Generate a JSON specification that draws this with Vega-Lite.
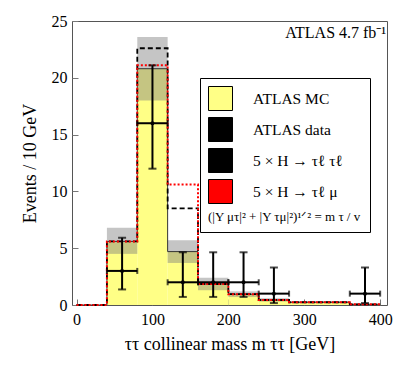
{
  "$schema": "https://vega.github.io/schema/vega-lite/v6.json",
  "width": 315,
  "height": 284,
  "autosize": {"type": "none"},
  "padding": {"left": 72, "top": 21, "right": 20, "bottom": 71},
  "background": "white",
  "config": {
    "font": "Liberation Serif",
    "view": {"stroke": "#555", "strokeWidth": 1},
    "axis": {"domain": false, "grid": false, "labelFont": "Liberation Serif", "labelFontSize": 16, "labelColor": "black", "titleFont": "Liberation Serif", "titleFontSize": 18, "titleFontWeight": "normal", "titleColor": "black", "tickColor": "#777", "tickWidth": 1}
  },
  "title": {"text": "ATLAS 4.7 fb⁻¹", "anchor": "end", "orient": "top", "offset": -28, "dx": -6, "fontSize": 16, "fontWeight": "normal", "font": "Liberation Serif", "color": "black"},
  "datasets": {
    "bins": [
      {"s": "ATLAS MC", "lo": 0, "hi": 40, "mc": 0, "blo": 0, "bhi": 0},
      {"s": "ATLAS MC", "lo": 40, "hi": 80, "mc": 5.6, "blo": 4.5, "bhi": 6.8},
      {"s": "ATLAS MC", "lo": 80, "hi": 120, "mc": 20.8, "blo": 18.0, "bhi": 23.6},
      {"s": "ATLAS MC", "lo": 120, "hi": 160, "mc": 4.7, "blo": 3.7, "bhi": 5.7},
      {"s": "ATLAS MC", "lo": 160, "hi": 200, "mc": 1.85, "blo": 1.3, "bhi": 2.4},
      {"s": "ATLAS MC", "lo": 200, "hi": 240, "mc": 0.95, "blo": 0.7, "bhi": 1.2},
      {"s": "ATLAS MC", "lo": 240, "hi": 280, "mc": 0.44, "blo": 0.3, "bhi": 0.6},
      {"s": "ATLAS MC", "lo": 280, "hi": 320, "mc": 0.24, "blo": 0.15, "bhi": 0.35},
      {"s": "ATLAS MC", "lo": 320, "hi": 360, "mc": 0.24, "blo": 0.15, "bhi": 0.35},
      {"s": "ATLAS MC", "lo": 360, "hi": 400, "mc": 0.06, "blo": 0.02, "bhi": 0.1}
    ],
    "edges": [
      {"x": 0, "mc": 0, "tt": 0, "tm": 0},
      {"x": 40, "mc": 5.6, "tt": 5.6, "tm": 5.6},
      {"x": 80, "mc": 20.8, "tt": 22.6, "tm": 21.1},
      {"x": 120, "mc": 4.7, "tt": 8.5, "tm": 10.6},
      {"x": 160, "mc": 1.85, "tt": 1.85, "tm": 1.85},
      {"x": 200, "mc": 0.95, "tt": 0.95, "tm": 0.95},
      {"x": 240, "mc": 0.44, "tt": 0.44, "tm": 0.44},
      {"x": 280, "mc": 0.24, "tt": 0.24, "tm": 0.24},
      {"x": 320, "mc": 0.24, "tt": 0.24, "tm": 0.24},
      {"x": 360, "mc": 0.06, "tt": 0.06, "tm": 0.06},
      {"x": 400, "mc": 0.06, "tt": 0.06, "tm": 0.06}
    ],
    "obs": [
      {"c": 60, "lo": 40, "hi": 80, "n": 3, "elo": 1.37, "ehi": 5.92},
      {"c": 100, "lo": 80, "hi": 120, "n": 16, "elo": 12.0, "ehi": 21.1},
      {"c": 140, "lo": 120, "hi": 160, "n": 2, "elo": 0.71, "ehi": 4.64},
      {"c": 180, "lo": 160, "hi": 200, "n": 2, "elo": 0.71, "ehi": 4.64},
      {"c": 220, "lo": 200, "hi": 240, "n": 2, "elo": 0.71, "ehi": 4.64},
      {"c": 260, "lo": 240, "hi": 280, "n": 1, "elo": 0.17, "ehi": 3.3},
      {"c": 380, "lo": 360, "hi": 400, "n": 1, "elo": 0.17, "ehi": 3.3}
    ]
  },
  "layer": [
    {
      "data": {"name": "bins"},
      "mark": {"type": "rect"},
      "encoding": {
        "x": {"field": "lo", "type": "quantitative", "scale": {"domain": [-6, 409], "nice": false, "zero": false},
              "axis": {"values": [0, 100, 200, 300, 400], "labelOverlap": false,
                       "tickSize": 6, "offset": -6,
                       "labelPadding": 6, "title": "ττ collinear mass m ττ [GeV]", "titlePadding": 8}},
        "x2": {"field": "hi"},
        "y": {"field": "mc", "type": "quantitative", "scale": {"domain": [0, 25], "nice": false, "zero": false},
              "axis": {"values": [0, 5, 10, 15, 20, 25], "labelOverlap": false,
                       "tickSize": 6, "offset": -6,
                       "labelPadding": 5, "title": "Events / 10 GeV", "titlePadding": 12}},
        "y2": {"datum": 0},
        "fill": {
          "field": "s", "type": "nominal",
          "scale": {"domain": ["ATLAS MC", "ATLAS data", "5 × H → τℓ τℓ", "5 × H → τℓ μ"], "range": ["#FFFF86", "black", "black", "red"]},
          "legend": {
            "orient": "none", "legendX": 128, "legendY": 57,
            "title": "(|Y μτ|² + |Y τμ|²)¹ᐟ² = m τ / v",
            "titleOrient": "bottom", "titleFontSize": 13, "titleFontWeight": "normal", "titleFont": "Liberation Serif", "titleColor": "black", "titleAnchor": "start", "titlePadding": 5,
            "padding": 8, "strokeColor": "black", "fillColor": "white", "cornerRadius": 0,
            "labelFont": "Liberation Serif", "labelFontSize": 15.5, "labelColor": "black", "labelOffset": 20, "labelLimit": 300,
            "symbolSize": 576, "symbolStrokeColor": "black", "symbolStrokeWidth": 1, "rowPadding": 2
          }
        }
      }
    },
    {
      "data": {"name": "bins"},
      "mark": {"type": "rect", "fill": "#7f7f7f", "opacity": 0.45},
      "encoding": {
        "x": {"field": "lo", "type": "quantitative"},
        "x2": {"field": "hi"},
        "y": {"field": "blo", "type": "quantitative"},
        "y2": {"field": "bhi"}
      }
    },
    {
      "data": {"name": "edges"},
      "mark": {"type": "line", "interpolate": "step-after", "stroke": "#333", "strokeWidth": 1},
      "encoding": {
        "x": {"field": "x", "type": "quantitative"},
        "y": {"field": "mc", "type": "quantitative"}
      }
    },
    {
      "data": {"name": "edges"},
      "mark": {"type": "line", "interpolate": "step-after", "stroke": "black", "strokeWidth": 1.8, "strokeDash": [5, 3]},
      "encoding": {
        "x": {"field": "x", "type": "quantitative"},
        "y": {"field": "tt", "type": "quantitative"}
      }
    },
    {
      "data": {"name": "edges"},
      "mark": {"type": "line", "interpolate": "step-after", "stroke": "red", "strokeWidth": 2, "strokeDash": [2, 2]},
      "encoding": {
        "x": {"field": "x", "type": "quantitative"},
        "y": {"field": "tm", "type": "quantitative"}
      }
    },
    {
      "data": {"name": "obs"},
      "mark": {"type": "rule", "color": "black", "strokeWidth": 2},
      "encoding": {
        "x": {"field": "c", "type": "quantitative"},
        "y": {"field": "elo", "type": "quantitative"},
        "y2": {"field": "ehi"}
      }
    },
    {
      "data": {"name": "obs"},
      "mark": {"type": "rule", "color": "black", "strokeWidth": 2},
      "encoding": {
        "x": {"field": "lo", "type": "quantitative"},
        "x2": {"field": "hi"},
        "y": {"field": "n", "type": "quantitative"}
      }
    },
    {
      "data": {"name": "obs"},
      "mark": {"type": "tick", "orient": "horizontal", "color": "black", "size": 8, "thickness": 2},
      "encoding": {
        "x": {"field": "c", "type": "quantitative"},
        "y": {"field": "ehi", "type": "quantitative"}
      }
    },
    {
      "data": {"name": "obs"},
      "mark": {"type": "tick", "orient": "horizontal", "color": "black", "size": 8, "thickness": 2},
      "encoding": {
        "x": {"field": "c", "type": "quantitative"},
        "y": {"field": "elo", "type": "quantitative"}
      }
    },
    {
      "data": {"name": "obs"},
      "mark": {"type": "tick", "orient": "vertical", "color": "black", "size": 6, "thickness": 2},
      "encoding": {
        "x": {"field": "lo", "type": "quantitative"},
        "y": {"field": "n", "type": "quantitative"}
      }
    },
    {
      "data": {"name": "obs"},
      "mark": {"type": "tick", "orient": "vertical", "color": "black", "size": 6, "thickness": 2},
      "encoding": {
        "x": {"field": "hi", "type": "quantitative"},
        "y": {"field": "n", "type": "quantitative"}
      }
    },
    {
      "data": {"name": "obs"},
      "mark": {"type": "point", "filled": true, "color": "black", "size": 16, "opacity": 1},
      "encoding": {
        "x": {"field": "c", "type": "quantitative"},
        "y": {"field": "n", "type": "quantitative"}
      }
    }
  ]
}
